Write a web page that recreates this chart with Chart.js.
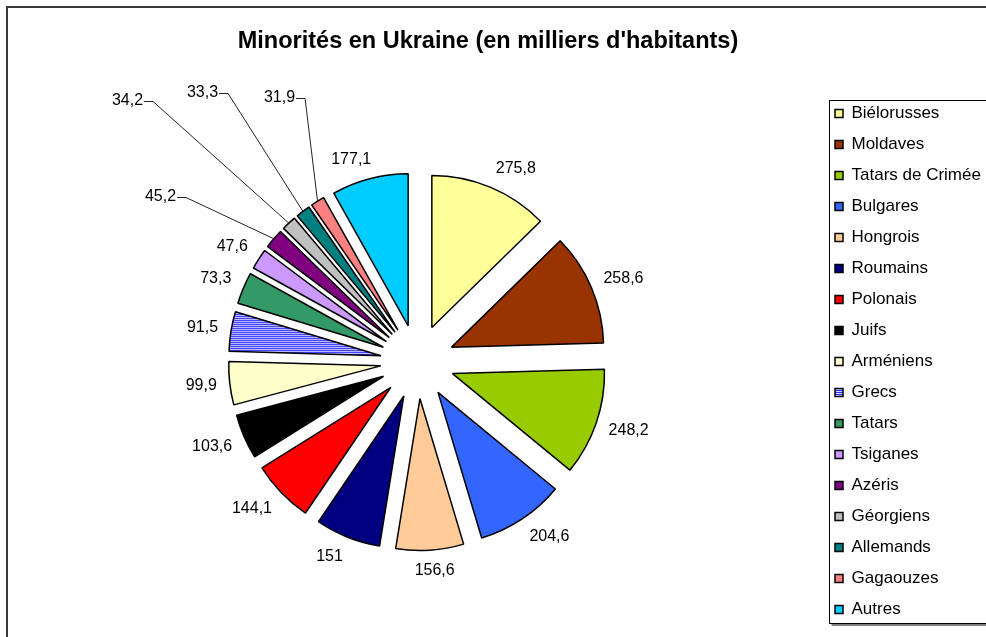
<!DOCTYPE html>
<html>
<head>
<meta charset="utf-8">
<script src="https://cdn.jsdelivr.net/npm/chart.js@4.4.1/dist/chart.umd.min.js"></script>
<style>
  body { margin: 0; background: #fff; }
  canvas { display: block; }
</style>
</head>
<body>
<canvas id="pieChart" width="986" height="637"></canvas>
<script>
var labels = ['Biélorusses', 'Moldaves', 'Tatars de Crimée', 'Bulgares', 'Hongrois', 'Roumains', 'Polonais', 'Juifs', 'Arméniens', 'Grecs', 'Tatars', 'Tsiganes', 'Azéris', 'Géorgiens', 'Allemands', 'Gagaouzes', 'Autres'];
var values = [275.8, 258.6, 248.2, 204.6, 156.6, 151, 144.1, 103.6, 99.9, 91.5, 73.3, 47.6, 45.2, 34.2, 33.3, 31.9, 177.1];
var colors = ['#FFFF99', '#993300', '#99CC00', '#3366FF', '#FFCC99', '#000080', '#FF0000', '#000000', '#FFFFCC', 'stripes', '#339966', '#CC99FF', '#800080', '#C0C0C0', '#008080', '#FF8080', '#00CCFF'];

var RADIUS = 152;   // rayon des parts
var EXPLODE = 37;   // éclatement des parts
var LABEL_R = 202;  // distance des étiquettes
var FONT = '"Liberation Sans", Arial, sans-serif';
// étiquettes déplacées à la main (décalage du texte par rapport au centre)
var movedLabels = { 12: [-257, -165], 13: [-290, -261], 14: [-215, -269], 15: [-138, -264] };

Chart.defaults.font.family = FONT;
Chart.defaults.color = '#000';

// hachures horizontales pour les Grecs
function stripes() {
    var c = document.createElement('canvas');
    c.width = 4;
    c.height = 2;
    var g = c.getContext('2d');
    g.fillStyle = '#ccccff';
    g.fillRect(0, 0, 4, 2);
    g.fillStyle = '#3333ff';
    g.fillRect(0, 0, 4, 1);
    return g.createPattern(c, 'repeat');
}

// parts éclatées : simple translation le long de la bissectrice
var baseArcDraw = Chart.ArcElement.prototype.draw;
Chart.ArcElement.prototype.draw = function (ctx) {
    var mid = (this.startAngle + this.endAngle) / 2;
    ctx.save();
    ctx.translate(Math.cos(mid) * EXPLODE, Math.sin(mid) * EXPLODE);
    baseArcDraw.call(this, ctx);
    ctx.restore();
};

function clamp(v) {
    return Math.max(-1, Math.min(1, v));
}

var valueLabels = {
    id: 'valueLabels',
    afterDatasetsDraw: function (chart) {
        var ctx = chart.ctx;
        var arcs = chart.getDatasetMeta(0).data;
        ctx.save();
        ctx.font = '16px ' + FONT;
        ctx.fillStyle = '#000';
        ctx.strokeStyle = '#222';
        ctx.lineWidth = 1;
        ctx.textBaseline = 'middle';
        ctx.textAlign = 'center';
        arcs.forEach(function (arc, i) {
            var text = String(values[i]).replace('.', ',');
            var w = ctx.measureText(text).width;
            var mid = (arc.startAngle + arc.endAngle) / 2;
            var cx = Math.cos(mid), cy = Math.sin(mid);
            var tx, ty;
            if (movedLabels[i]) {
                tx = arc.x + movedLabels[i][0];
                ty = arc.y + movedLabels[i][1];
                var r = EXPLODE + RADIUS;
                ctx.beginPath();
                ctx.moveTo(tx + w / 2 + 1, Math.round(ty) + 0.5);
                ctx.lineTo(tx + w / 2 + 10, Math.round(ty) + 0.5);
                ctx.lineTo(arc.x + cx * r, arc.y + cy * r);
                ctx.stroke();
            } else {
                tx = arc.x + cx * LABEL_R + clamp(cx * 3) * w / 2;
                ty = arc.y + cy * LABEL_R + clamp(cy * 1.5) * 7;
            }
            ctx.fillText(text, tx, ty);
        });
        ctx.restore();
    }
};

var frame = {
    id: 'frame',
    afterLayout: function (chart) {
        // la légende déborde à droite comme dans l'original
        chart.legend.right = chart.width;
        chart.legend.width = chart.width - chart.legend.left;
    },
    afterDraw: function (chart) {
        var ctx = chart.ctx;
        var boxes = chart.legend.legendHitBoxes;
        var first = boxes[0], last = boxes[boxes.length - 1];
        ctx.save();
        // cadre du graphique
        ctx.strokeStyle = '#3a3a3a';
        ctx.lineWidth = 2;
        ctx.strokeRect(7, 7, chart.width, chart.height);
        // cadre de la légende
        var x = Math.round(first.left - 6) + 0.5;
        var top = Math.round(first.top - 5) + 0.5;
        var bottom = Math.round(last.top + last.height + 5) + 0.5;
        ctx.strokeStyle = '#000';
        ctx.lineWidth = 1;
        ctx.strokeRect(x, top, chart.width, bottom - top);
        ctx.strokeStyle = '#808080';
        ctx.lineWidth = 2;
        ctx.beginPath();
        ctx.moveTo(x + 2, bottom + 1.5);
        ctx.lineTo(chart.width, bottom + 1.5);
        ctx.stroke();
        ctx.restore();
    }
};

var ctx = document.getElementById('pieChart').getContext('2d');
var myPieChart = new Chart(ctx, {
    type: 'pie',
    data: {
        labels: labels,
        datasets: [{
            data: values,
            backgroundColor: colors.map(function (c) { return c === 'stripes' ? stripes() : c; }),
            borderColor: '#000',
            borderWidth: 1.5
        }]
    },
    options: {
        responsive: false,
        animation: false,
        events: [],
        radius: RADIUS,
        layout: { padding: { left: 14, right: 24, top: 0, bottom: 0 } },
        plugins: {
            title: {
                display: true,
                text: "Minorités en Ukraine (en milliers d'habitants)",
                color: '#000',
                font: { size: 23.5, weight: 'bold' },
                padding: { top: 27, bottom: 31 }
            },
            legend: {
                position: 'right',
                fullSize: false,
                maxWidth: 141,
                labels: {
                    boxWidth: 8,
                    boxHeight: 8,
                    padding: 14,
                    color: '#000',
                    font: { size: 17 }
                }
            },
            tooltip: { enabled: false }
        }
    },
    plugins: [valueLabels, frame]
});
</script>
</body>
</html>
